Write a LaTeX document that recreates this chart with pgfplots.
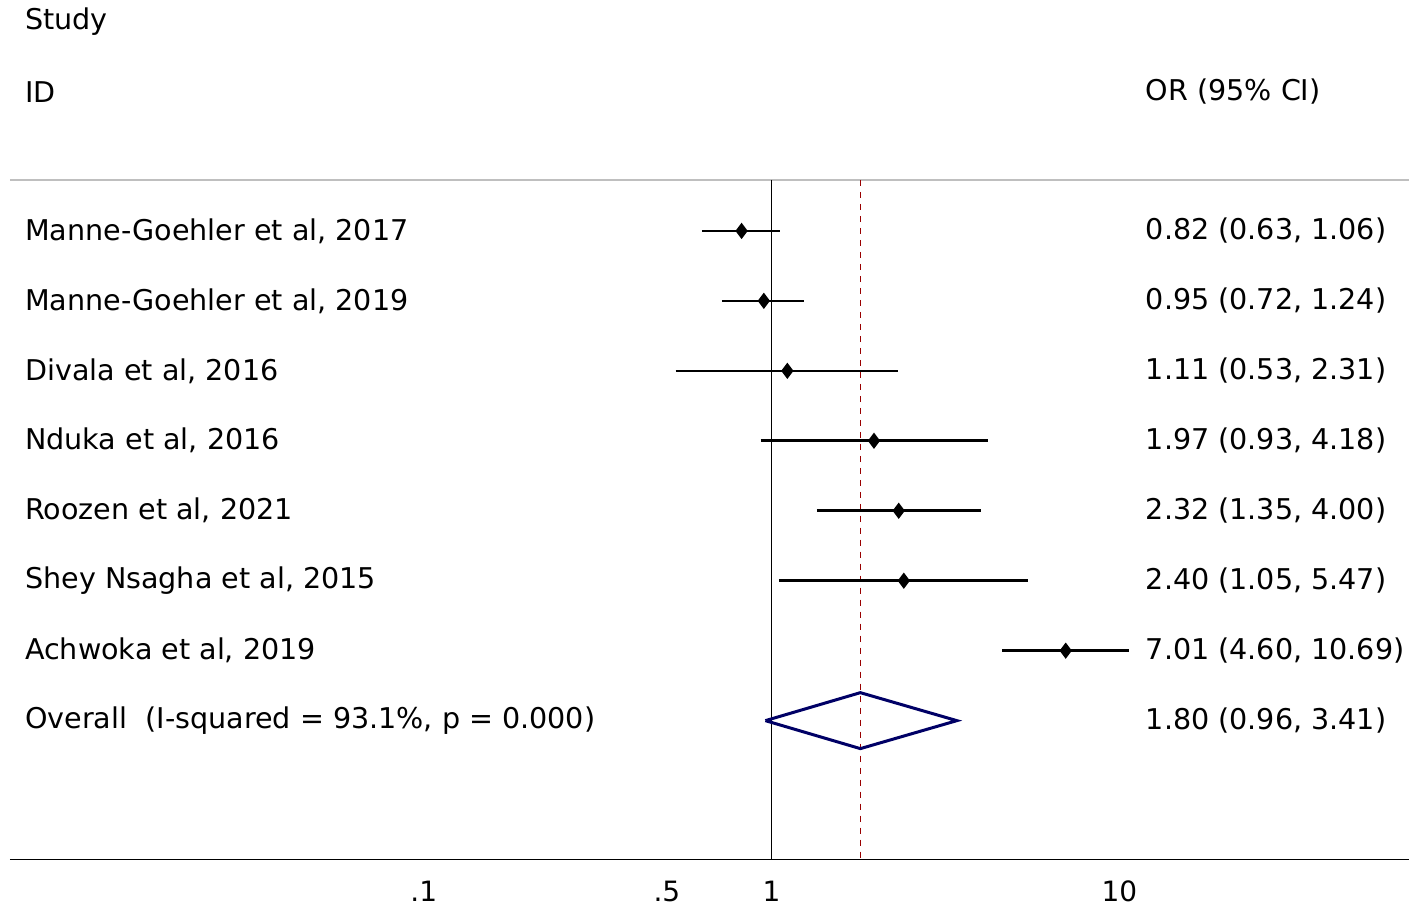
\documentclass[border=0pt]{standalone}
\usepackage{pgfplots}
\pgfplotsset{compat=1.18}
\usepackage{fontspec}
\setmainfont{DejaVu Sans}
\newcommand{\row}[3]{\node at (axis cs:0.00713,#1) {#2}; \node at (axis cs:11.88,#1) {#3};}
\begin{document}
\begin{tikzpicture}
\begin{axis}[scale only axis, width=700pt, height=340pt,
 xmode=log, xmin=0.00646, xmax=68.1, ymin=180, ymax=860, y dir=reverse,
 axis x line*=bottom, axis y line=none, clip=false,
 xtick={0.1,0.5,1,10}, xticklabels={.1,.5,1,10}, major tick length=0pt,
 tick label style={font=\fontsize{14}{16}\selectfont}, xticklabel style={yshift=-7pt},
 /pgf/number format/assume math mode=true,
 every axis plot/.append style={line width=1.3pt}]
\path (axis cs:0.00605,0) rectangle (axis cs:68.1,910);
\draw[gray!50, line width=0.8pt] (axis cs:0.00646,180) -- (axis cs:68.1,180);
\draw[black, line width=0.8pt] (axis cs:1,180) -- (axis cs:1,860);
\draw[red!60!black, dashed, line width=0.6pt] (axis cs:1.80,180) -- (axis cs:1.80,860);
\addplot[black, no marks] coordinates {(0.63,231) (1.06,231)};
\addplot[black, no marks] coordinates {(0.72,301) (1.24,301)};
\addplot[black, no marks] coordinates {(0.53,371) (2.31,371)};
\addplot[black, no marks] coordinates {(0.93,441) (4.18,441)};
\addplot[black, no marks] coordinates {(1.35,511) (4.00,511)};
\addplot[black, no marks] coordinates {(1.05,581) (5.47,581)};
\addplot[black, no marks] coordinates {(4.60,651) (10.69,651)};
\addplot[black, only marks, mark=diamond*, mark size=3pt] coordinates {(0.82,231) (0.95,301) (1.11,371) (1.97,441) (2.32,511) (2.40,581) (7.01,651)};
\addplot[blue!40!black, line width=1.5pt, no marks] coordinates {(0.96,721) (1.80,693) (3.41,721) (1.80,749) (0.96,721)};
\begin{scope}[every node/.style={anchor=west, font=\fontsize{14.3}{17}\selectfont, inner sep=0pt}]
\node at (axis cs:0.00713,22) {Study};
\node at (axis cs:0.00713,92) {ID};
\node at (axis cs:11.88,92) {OR (95\% CI)};
\row{231}{Manne-Goehler et al, 2017}{0.82 (0.63, 1.06)}
\row{301}{Manne-Goehler et al, 2019}{0.95 (0.72, 1.24)}
\row{371}{Divala et al, 2016}{1.11 (0.53, 2.31)}
\row{441}{Nduka et al, 2016}{1.97 (0.93, 4.18)}
\row{511}{Roozen et al, 2021}{2.32 (1.35, 4.00)}
\row{581}{Shey Nsagha et al, 2015}{2.40 (1.05, 5.47)}
\row{651}{Achwoka et al, 2019}{7.01 (4.60, 10.69)}
\row{721}{Overall\ \ (I-squared = 93.1\%, p = 0.000)}{1.80 (0.96, 3.41)}
\end{scope}
\end{axis}
\end{tikzpicture}
\end{document}
